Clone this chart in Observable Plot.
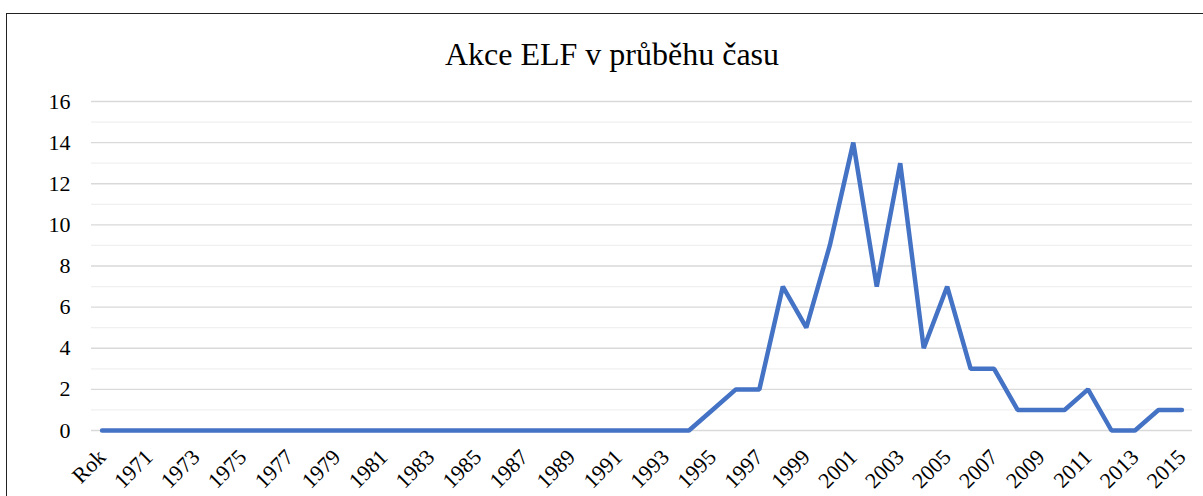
<!DOCTYPE html>
<html>
<head>
<meta charset="utf-8">
<script src="https://cdn.jsdelivr.net/npm/d3@7"></script>
<script src="https://cdn.jsdelivr.net/npm/@observablehq/plot@0.6"></script>
<style>
  html, body { margin: 0; padding: 0; background: #fff; overflow: hidden; }
  #wrap { position: relative; width: 1203px; height: 496px; }
  #border { position: absolute; left: 6px; top: 13px; width: 1400px; height: 700px; border: 1.5px solid #222; box-sizing: border-box; }
  #chart { position: absolute; left: 0; top: 0; }
</style>
</head>
<body>
<div id="wrap"><div id="border"></div><div id="chart"></div></div>
<script>
const title = "Akce ELF v průběhu času";
const categories = ["Rok","1970","1971","1972","1973","1974","1975","1976","1977","1978","1979",
  "1980","1981","1982","1983","1984","1985","1986","1987","1988","1989",
  "1990","1991","1992","1993","1994","1995","1996","1997","1998","1999",
  "2000","2001","2002","2003","2004","2005","2006","2007","2008","2009",
  "2010","2011","2012","2013","2014","2015"];
const values = [0,0,0,0,0,0,0,0,0,0,0,
  0,0,0,0,0,0,0,0,0,0,
  0,0,0,0,0,1,2,2,7,5,
  9,14,7,13,4,7,3,3,1,1,
  1,2,0,0,1,1];
const xTickLabels = ["Rok","1971","1973","1975","1977","1979","1981","1983","1985","1987","1989",
  "1991","1993","1995","1997","1999","2001","2003","2005","2007","2009","2011","2013","2015"];
const yMajor = [0,2,4,6,8,10,12,14,16];
const yMinor = [1,3,5,7,9,11,13,15];

const data = categories.map((c, i) => ({cat: c, val: values[i]}));

const chart = Plot.plot({
  width: 1203,
  height: 496,
  marginLeft: 91,
  marginRight: 11,
  marginTop: 101,
  marginBottom: 66,
  style: {fontFamily: "'Liberation Serif', 'Times New Roman', serif", fontSize: "22px", background: "transparent", color: "#000"},
  x: {type: "point", domain: categories, padding: 0.45, round: false},
  y: {domain: [0, 16]},
  marks: [
    Plot.ruleY(yMinor, {stroke: "#f0f0f0", strokeWidth: 1.3}),
    Plot.ruleY(yMajor, {stroke: "#d9d9d9", strokeWidth: 1.3}),
    Plot.axisY(yMajor, {tickSize: 0, tickPadding: 21, fontSize: 22, fill: "#000", label: null}),
    Plot.axisX(xTickLabels, {tickSize: 0, tickPadding: 23, tickRotate: -45, fontSize: 22, fill: "#000", label: null}),
    Plot.line(data, {x: "cat", y: "val", stroke: "#4472C4", strokeWidth: 4.5, strokeLinejoin: "miter", strokeLinecap: "round"}),
    Plot.text([title], {frameAnchor: "top", dy: -47, dx: -30, fontSize: 32, fill: "#000", lineAnchor: "middle"})
  ]
});
document.getElementById("chart").appendChild(chart);
</script>
</body>
</html>
